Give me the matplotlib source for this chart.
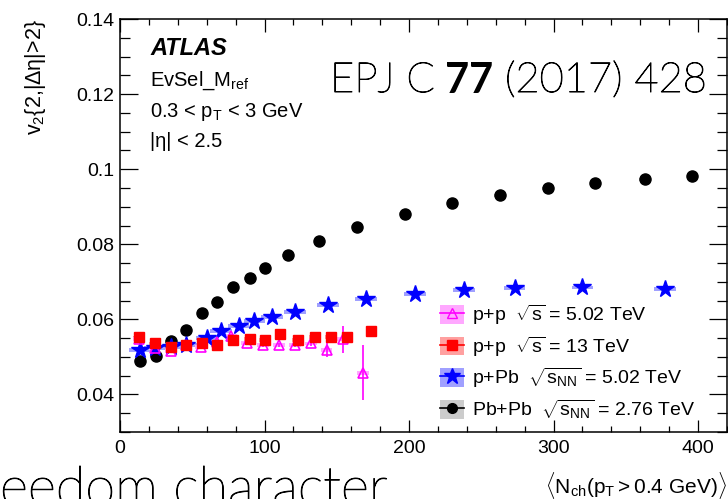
import matplotlib.pyplot as plt
import matplotlib.patheffects as pe
from matplotlib.lines import Line2D
from matplotlib.patches import Patch
from matplotlib.ticker import MultipleLocator, FixedLocator, FixedFormatter

plt.rcParams['font.family'] = ['Liberation Sans', 'DejaVu Sans']
plt.rcParams['mathtext.fontset'] = 'custom'
plt.rcParams['mathtext.rm'] = 'Liberation Sans'
plt.rcParams['mathtext.it'] = 'Liberation Sans:italic'
plt.rcParams['mathtext.bf'] = 'Liberation Sans:bold'

# Pb+Pb 2.76 TeV
pbpb_nch = [14, 25, 35, 46, 57, 67, 78, 90, 100, 116, 138, 164, 197, 230, 263, 296, 329, 363, 396]
pbpb_v2 = [0.0490, 0.0503, 0.0542, 0.0572, 0.0616, 0.0645, 0.0687, 0.0709, 0.0736, 0.0771,
           0.0809, 0.0847, 0.0881, 0.0911, 0.0931, 0.0949, 0.0962, 0.0973, 0.0982]
pbpb_sys = 0.0004

# p+Pb 5.02 TeV
ppb_nch = [14, 24, 35, 46, 60, 70, 82, 93, 105, 121, 144, 170, 204, 238, 273, 320, 377]
ppb_v2 = [0.0519, 0.0523, 0.0527, 0.0532, 0.0550, 0.0570, 0.0583, 0.0596, 0.0607, 0.0619,
          0.0638, 0.0654, 0.0667, 0.0678, 0.0684, 0.0685, 0.0681]
ppb_sys = 0.0005

# p+p 13 TeV
pp13_nch = [13, 24, 35, 46, 57, 67, 78, 90, 100, 111, 123, 135, 146, 157, 174]
pp13_v2 = [0.0552, 0.0536, 0.0527, 0.0532, 0.0536, 0.0532, 0.0545, 0.0548, 0.0545, 0.0560,
           0.0545, 0.0554, 0.0554, 0.0552, 0.0569]
pp13_sys = 0.0005

# p+p 5.02 TeV
pp5_nch = [13, 24, 35, 46, 56, 67, 77, 88, 99, 110, 121, 132, 143, 154, 168]
pp5_v2 = [0.0548, 0.0524, 0.0515, 0.0533, 0.0527, 0.0540, 0.0556, 0.0537, 0.0532, 0.0532,
          0.0532, 0.0536, 0.0519, 0.0547, 0.0458]
pp5_err = [0.0012, 0.0004, 0.0004, 0.0004, 0.0004, 0.0004, 0.0004, 0.0004, 0.0005, 0.0005,
           0.0006, 0.0007, 0.0018, 0.0036, 0.0074]
pp5_sys = 0.0005

labels = [r'p+p  $\sqrt{\mathrm{s}}$ = 5.02 TeV',
          r'p+p  $\sqrt{\mathrm{s}}$ = 13 TeV',
          r'p+Pb  $\sqrt{\mathrm{s}_{\mathrm{NN}}}$ = 5.02 TeV',
          r'Pb+Pb  $\sqrt{\mathrm{s}_{\mathrm{NN}}}$ = 2.76 TeV']

fig = plt.figure(figsize=(7.28, 4.99), dpi=100)
ax = fig.add_axes([120 / 728, 1 - 432 / 499, 607 / 728, 413 / 499])

# systematic boxes
def sys_boxes(x, y, s, w, color):
    ax.bar(x, [2 * s] * len(y), bottom=[v - s for v in y], width=w,
           color=color, edgecolor='none', zorder=1)

sys_boxes(pbpb_nch, pbpb_v2, pbpb_sys, 8, '#cccccc')
sys_boxes(ppb_nch, ppb_v2, ppb_sys, 15, '#a0a0ff')
sys_boxes(pp13_nch, pp13_v2, pp13_sys, 8, '#ffa0a0')
sys_boxes(pp5_nch, pp5_v2, pp5_sys, 8, '#ffa8ff')

ax.plot(pbpb_nch, pbpb_v2, 'o', color='black', ms=8, ls='none', zorder=3)
ax.plot(ppb_nch, ppb_v2, '*', color='#0000ff', ms=13, ls='none', zorder=4)
ax.errorbar(pp5_nch, pp5_v2, yerr=pp5_err, fmt='^', color='#ff00ff', mfc='none',
            mew=1.2, ms=7, elinewidth=1.2, capsize=0, zorder=5)
ax.plot(pp13_nch, pp13_v2, 's', color='#ff0000', ms=7.5, ls='none', zorder=6)

ax.set_xlim(0, 420)
ax.set_ylim(0.03, 0.14)
ax.xaxis.set_major_locator(MultipleLocator(100))
ax.xaxis.set_minor_locator(MultipleLocator(20))
yt = [0.04, 0.06, 0.08, 0.10, 0.12, 0.14]
ax.yaxis.set_major_locator(FixedLocator(yt))
ax.yaxis.set_major_formatter(FixedFormatter(['0.04', '0.06', '0.08', '0.1', '0.12', '0.14']))
ax.yaxis.set_minor_locator(MultipleLocator(0.005))
ax.tick_params(which='both', direction='in', top=True, right=True, labelsize=14, width=0.9)
ax.tick_params(axis='x', which='major', length=9, pad=6)
ax.tick_params(axis='x', which='minor', length=4.5)
ax.tick_params(axis='y', which='major', length=13, pad=4)
ax.tick_params(axis='y', which='minor', length=7)
for sp in ax.spines.values():
    sp.set_linewidth(1.1)

fig.text(35 / 728, 1 - 19 / 499, r'v$_2${2,|Δη|>2}', rotation=90, ha='center', va='top', fontsize=15.5)
fig.text(727 / 728, 1 - 493 / 499, r'$\langle\mathrm{N_{ch}(p_T > 0.4\ GeV)}\rangle$',
         ha='right', va='baseline', fontsize=15)

fig.text(150 / 728, 1 - 55 / 499, 'ATLAS', fontsize=17, weight='bold', style='italic', va='baseline')
fig.text(150 / 728, 1 - 86 / 499, r'EvSel_M$_{\mathrm{ref}}$', fontsize=14.5, va='baseline')
fig.text(150 / 728, 1 - 117 / 499, r'0.3 < p$_{\mathrm{T}}$ < 3 GeV', fontsize=14.5, va='baseline')
fig.text(150 / 728, 1 - 147 / 499, '|η| < 2.5', fontsize=14.5, va='baseline')

# thin geometric text, slightly thickened
thin = dict(family='Lato', weight='light', color='black',
            path_effects=[pe.withStroke(linewidth=0.7, foreground='black')])

# journal reference
t1 = fig.text(330 / 728, 1 - 92 / 499, 'EPJ C', fontsize=30, va='baseline', **thin)
t2 = ax.annotate(' 77', xy=(1, 0), xycoords=t1, va='bottom', fontsize=30, family='Lato', weight='bold')
ax.annotate(' (2017) 428', xy=(1, 0), xycoords=t2, va='bottom', fontsize=30, **thin)

fig.text(0, 1 - 505 / 499, 'eedom character', fontsize=39, va='baseline', **thin)

handles = [
    (Patch(facecolor='#ffa8ff', edgecolor='none'),
     Line2D([], [], color='#ff00ff', marker='^', mfc='none', ms=7, lw=1.2)),
    (Patch(facecolor='#ffa0a0', edgecolor='none'),
     Line2D([], [], color='#ff0000', marker='s', ms=7, lw=1.2)),
    (Patch(facecolor='#a0a0ff', edgecolor='none'),
     Line2D([], [], color='#0000ff', marker='*', ms=12, lw=1.2)),
    (Patch(facecolor='#cccccc', edgecolor='none'),
     Line2D([], [], color='black', marker='o', ms=7, lw=1.2)),
]
ax.legend(handles, labels, loc='upper left', bbox_to_anchor=(440 / 728, 1 - 303 / 499),
          bbox_transform=fig.transFigure, frameon=False, fontsize=14, borderpad=0,
          borderaxespad=0, handlelength=1.25, handleheight=1.1, handletextpad=0.4,
          labelspacing=0.38)

fig.savefig('out.png', dpi=100)
